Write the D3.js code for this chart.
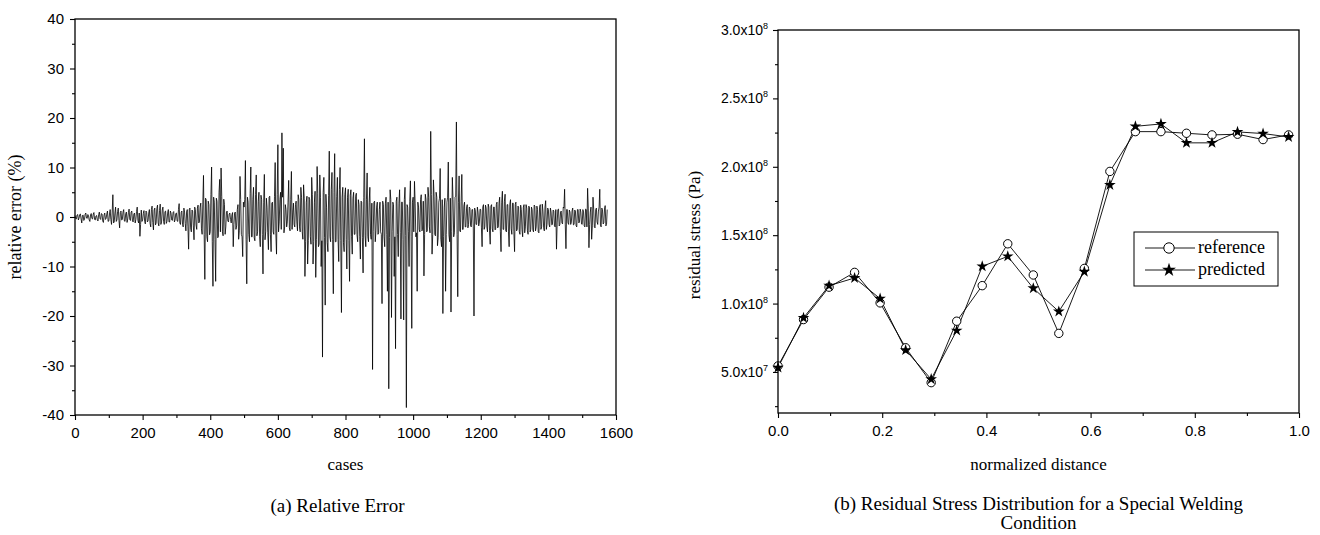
<!DOCTYPE html>
<html>
<head>
<meta charset="utf-8">
<script src="https://cdn.jsdelivr.net/npm/d3@7"></script>
<style>
  body { margin: 0; background: #fff; }
  svg { display: block; }
</style>
</head>
<body>
<div id="chart"></div>
<script>
// (a) relative error (%), readings at cases 0, 4, 8 ... 1572
const caseStep = 4;
const relErr = [
  0.3,-0.4,0.5,-0.2,0.6,-1.2,0.4,-0.5,0.8,-0.3,0.2,-0.9,0.7,-0.4,0.9,-0.6,0.3,-0.8,1.0,-0.5,0.6,-1.1,0.8,-0.3,1.2,
  -0.8,1.5,-1.5,4.5,-1.0,2.0,-0.6,1.8,-2.2,1.2,-0.5,1.5,-0.9,1.0,-0.4,1.6,-0.7,1.2,-1.0,0.8,-0.5,2.0,-1.2,-3.9,1.4,
  -0.6,1.3,-1.4,0.9,-0.8,1.5,-2.0,2.2,-2.6,1.8,-1.2,2.4,-1.8,2.6,-1.0,2.0,-1.5,1.2,-0.9,1.5,-1.0,0.8,-0.7,1.1,-0.6,
  0.8,-0.9,2.7,-1.5,1.2,-2.0,1.0,-2.8,1.5,-6.5,1.8,-3.0,1.2,-4.6,1.5,-2.5,2.4,-1.0,2.8,-3.5,8.4,-12.6,3.5,-5.0,2.5,
  -3.0,10.1,-14.0,3.0,-13.0,3.2,-4.0,7.6,9.9,-3.0,3.6,-3.5,1.0,-0.8,0.6,-0.5,0.4,-6.0,0.8,-2.5,1.5,-4.5,8.2,-3.5,-8.0,
  2.0,11.4,-13.5,3.0,-5.0,10.1,-4.0,6.0,-4.8,8.5,-3.0,5.0,-6.0,3.5,-11.5,8.6,-3.0,2.0,-6.6,4.2,-7.0,3.0,-3.5,11.0,-7.5,
  14.6,-1.0,5.0,17.0,13.9,-2.0,1.5,-1.0,7.4,-2.8,9.2,1.0,-1.5,2.5,-1.0,4.5,-2.0,6.0,-3.0,6.5,-12.0,3.0,-9.5,4.0,-4.0,
  8.0,-9.5,3.0,-12.2,10.2,-6.0,8.5,-10.0,-28.3,8.0,-17.8,2.0,-7.0,13.3,-5.0,9.0,-15.5,12.8,-5.0,8.0,-9.0,10.0,-19.3,6.0,-7.0,
  5.9,-10.5,5.6,-13.0,5.5,-7.5,5.0,-3.5,4.8,-5.0,2.5,-8.5,3.0,-11.3,15.8,-6.0,8.9,-5.0,6.0,-4.5,-30.8,3.0,-5.0,2.0,-3.5,
  1.5,-3.0,-17.5,2.5,-6.0,4.0,-15.0,-34.7,5.5,-20.3,3.0,-12.0,-26.6,4.0,-8.0,5.5,-20.6,3.0,-20.8,6.0,-38.5,2.0,-10.0,7.3,-22.5,
  4.0,7.2,-4.0,-15.0,2.0,-3.0,4.5,-2.5,-11.9,4.6,-3.0,6.0,-2.0,17.3,-7.5,7.5,-3.5,5.0,-5.8,3.0,9.8,-6.0,-19.5,2.0,-15.0,
  3.0,11.1,-5.0,-19.2,8.0,-4.0,4.0,19.2,-16.1,8.3,-3.0,8.6,-2.5,3.0,-2.0,2.5,-1.5,1.8,-2.0,1.5,-20.0,1.2,-1.5,1.0,-1.0,
  1.5,-6.0,2.5,-2.0,1.8,-3.0,2.0,-5.5,2.5,-3.0,2.0,-2.5,3.0,-2.0,4.0,-7.0,5.2,-2.5,4.6,-3.0,2.5,-6.0,3.5,-3.5,2.8,
  -7.0,3.0,-2.5,2.0,-3.5,1.5,-4.0,2.5,-2.0,1.8,-3.5,2.0,-2.5,1.5,-3.0,2.2,-2.0,1.5,-3.2,2.5,-2.0,1.2,-2.8,3.3,-1.5,
  1.5,-2.0,1.0,-1.5,1.2,-2.0,-6.5,1.5,-1.8,1.0,-1.2,2.0,5.6,-6.4,1.5,-1.5,1.0,-1.0,1.8,-1.5,1.2,-2.0,1.5,-1.0,1.0,
  -1.5,1.0,-2.0,1.5,5.8,-6.2,1.0,-4.5,4.0,-2.0,1.5,-1.0,1.2,5.6,-2.0,1.5,-1.2,2.3,-1.5
];
// in-between readings at cases 2, 6, 10 ... 1574 (the dense band)
const relErrMid = [
  -0.3,0.4,-0.6,0.5,-0.4,0.3,-0.7,0.6,-0.2,0.5,-0.6,0.4,-0.3,0.6,-0.5,0.2,-0.6,0.5,-0.3,0.7,-0.8,0.4,-0.5,0.6,-0.9,
  0.6,-0.5,1.0,-1.2,0.8,-0.9,1.1,-0.7,0.9,-0.6,1.0,-0.8,0.7,-1.1,0.9,-0.5,1.0,-0.8,0.6,-1.2,1.1,-0.7,0.8,-1.5,-0.9,
  0.7,-0.9,1.2,-1.0,0.8,-1.3,1.5,-1.1,1.4,-1.6,1.7,-1.2,1.3,-1.5,1.4,-0.9,1.1,-1.3,0.8,-1.0,1.2,-0.6,0.9,-1.0,0.7,
  -0.8,1.5,-1.2,0.9,-1.5,1.8,-1.3,1.0,-2.0,1.6,-2.2,1.4,-1.8,2.0,-1.6,1.8,-1.2,2.0,-2.4,2.6,-3.5,3.8,-4.0,3.2,-3.6,
  4.5,-5.0,4.0,-4.5,3.8,-4.2,5.0,-3.0,4.2,-3.8,2.5,-2.0,1.2,-1.0,0.8,-1.2,0.9,-1.5,1.0,-1.8,2.5,-2.8,3.5,-4.0,3.0,
  3.5,-4.5,4.0,-3.5,4.8,-4.0,3.6,-4.2,4.5,-3.8,3.2,-4.0,4.4,-3.5,3.0,-4.6,3.8,-3.2,4.0,-3.6,2.8,-3.0,4.2,-3.4,4.5,
  -3.0,3.5,-2.5,4.0,-3.2,2.5,-2.0,3.0,-2.2,3.6,-2.5,2.8,-2.0,3.2,-2.8,3.5,-3.0,4.0,-4.5,3.8,-5.0,4.2,-4.8,3.5,-5.5,
  4.5,-5.0,5.2,-4.6,4.8,-5.5,4.0,-4.8,5.0,-4.2,4.6,-5.2,4.4,-4.0,5.5,-4.6,5.0,-5.0,4.2,-4.5,5.6,-4.8,4.0,-5.2,4.5,
  -4.5,4.0,-4.8,4.4,-4.0,3.8,-3.5,4.2,-3.6,3.5,-4.0,3.2,-4.2,4.0,-3.8,3.6,-4.0,3.0,-3.5,2.8,-3.0,3.2,-2.8,3.0,-3.2,
  3.0,-3.5,3.2,-4.0,2.8,-3.6,3.0,-4.2,3.5,-3.0,2.5,-4.0,3.2,-3.5,2.8,-3.2,3.0,-4.5,3.5,-3.8,2.5,-3.0,3.2,-4.0,3.0,
  -3.0,2.8,-3.2,3.0,-2.5,3.5,-2.8,3.2,-3.5,3.6,-2.8,4.0,-3.2,4.5,-3.5,4.2,-3.8,4.0,-4.2,3.8,-4.5,3.5,-4.0,3.8,-3.5,
  4.0,-3.6,3.8,-3.0,3.5,-3.2,4.2,-3.5,3.0,-2.8,3.2,-2.5,2.2,-2.0,1.8,-2.2,2.0,-1.8,1.5,-2.0,1.8,-1.5,2.0,-1.8,1.6,
  -2.2,2.0,-2.5,2.4,-2.0,2.6,-2.8,2.2,-2.4,2.0,-2.6,2.5,-2.2,2.8,-3.0,3.0,-2.5,3.2,-2.8,2.5,-3.0,2.6,-2.4,2.8,-3.0,
  2.5,-2.8,2.2,-3.0,2.4,-2.6,2.0,-3.2,2.5,-2.8,2.2,-3.0,2.0,-2.6,2.4,-2.8,2.2,-3.0,2.0,-2.5,2.6,-2.2,2.0,-2.5,1.8,
  -1.5,1.8,-1.6,1.4,-1.8,1.5,-1.2,1.6,-1.5,1.2,-1.4,1.8,-1.6,1.5,-1.2,1.4,-1.5,1.2,-1.6,1.4,-1.8,1.5,-1.2,1.6,-1.4,
  1.5,-1.8,1.6,-2.0,1.8,-1.5,2.0,-1.8,1.6,-2.2,1.8,-1.5,2.0,-1.6,1.8,-1.4,1.6,-1.8,1.5
];
const caseTicks = [0, 200, 400, 600, 800, 1000, 1200, 1400, 1600];
const caseMinor = [100, 300, 500, 700, 900, 1100, 1300, 1500];
const errTicks = [-40, -30, -20, -10, 0, 10, 20, 30, 40];
const errMinor = [-35, -25, -15, -5, 5, 15, 25, 35];

// (b) residual stress (Pa) along the normalized distance
const distance = [0, 0.049, 0.098, 0.147, 0.196, 0.245, 0.294, 0.343, 0.392, 0.441, 0.49,
                  0.539, 0.588, 0.637, 0.686, 0.735, 0.784, 0.833, 0.882, 0.931, 0.98];
const stressRef = [5.44e7, 8.83e7, 1.12e8, 1.228e8, 1.005e8, 6.77e7, 4.22e7, 8.71e7, 1.131e8, 1.437e8, 1.209e8,
                   7.82e7, 1.257e8, 1.966e8, 2.257e8, 2.257e8, 2.245e8, 2.233e8, 2.238e8, 2.199e8, 2.233e8];
const stressPred = [5.32e7, 8.96e7, 1.131e8, 1.187e8, 1.036e8, 6.6e7, 4.47e7, 8.03e7, 1.272e8, 1.345e8, 1.112e8,
                    9.42e7, 1.233e8, 1.867e8, 2.296e8, 2.313e8, 2.175e8, 2.175e8, 2.255e8, 2.243e8, 2.218e8];
const distTicks = [0, 0.2, 0.4, 0.6, 0.8, 1.0];
const distMinor = [0.1, 0.3, 0.5, 0.7, 0.9];
const stressTicks = [5e7, 1e8, 1.5e8, 2e8, 2.5e8, 3e8];
const stressMinor = [2.5e7, 7.5e7, 1.25e8, 1.75e8, 2.25e8, 2.75e8];

const W = 1320, H = 535;
const sans = "'Liberation Sans', Arial, sans-serif";
const serif = "'Liberation Serif', 'Times New Roman', serif";

const svg = d3.select("#chart").append("svg")
  .attr("width", W).attr("height", H);

function styleAxis(g, size) {
  g.select(".domain").remove();
  g.selectAll(".tick line").attr("stroke", "#000").attr("stroke-width", 1.1);
  g.selectAll(".tick text").attr("fill", "#000")
    .style("font-family", sans).style("font-size", size + "px");
}

// ---------- panel (a) ----------
const A = { left: 75, top: 19, width: 541, height: 396 };
const gA = svg.append("g").attr("transform", `translate(${A.left},${A.top})`);

const xA = d3.scaleLinear().domain([0, 1600]).range([0, A.width]);
const yA = d3.scaleLinear().domain([-40, 40]).range([A.height, 0]);

gA.append("g").attr("transform", `translate(0,${A.height})`)
  .call(d3.axisBottom(xA).tickValues(caseTicks).tickFormat(d => String(d)).tickSize(5).tickPadding(7).tickSizeOuter(0))
  .call(g => styleAxis(g, 15));
gA.append("g").attr("transform", `translate(0,${A.height})`)
  .call(d3.axisBottom(xA).tickValues(caseMinor).tickFormat("").tickSize(3).tickSizeOuter(0))
  .call(g => styleAxis(g, 15));
gA.append("g")
  .call(d3.axisLeft(yA).tickValues(errTicks).tickFormat(d => String(d)).tickSize(5).tickPadding(6).tickSizeOuter(0))
  .call(g => styleAxis(g, 15));
gA.append("g")
  .call(d3.axisLeft(yA).tickValues(errMinor).tickFormat("").tickSize(3).tickSizeOuter(0))
  .call(g => styleAxis(g, 15));

// merge the two reading sets in case order
const errSeries = [];
relErr.forEach((v, k) => {
  errSeries.push({ c: k * caseStep, v: v });
  if (k < relErrMid.length) errSeries.push({ c: k * caseStep + caseStep / 2, v: relErrMid[k] });
});

gA.append("path")
  .datum(errSeries)
  .attr("fill", "none")
  .attr("stroke", "#000")
  .attr("stroke-width", 0.8)
  .attr("d", d3.line().x(d => xA(d.c)).y(d => yA(d.v)));

gA.append("rect").attr("width", A.width).attr("height", A.height)
  .attr("fill", "none").attr("stroke", "#000").attr("stroke-width", 1.3);

svg.append("text").attr("x", A.left + A.width / 2).attr("y", 470)
  .attr("text-anchor", "middle").style("font-family", serif).style("font-size", "17px")
  .text("cases");
svg.append("text").attr("transform", `translate(21,${A.top + A.height / 2}) rotate(-90)`)
  .attr("text-anchor", "middle").style("font-family", serif).style("font-size", "18px")
  .text("relative error (%)");
svg.append("text").attr("x", A.left + A.width / 2 - 8).attr("y", 512)
  .attr("text-anchor", "middle").style("font-family", serif).style("font-size", "19px")
  .text("(a) Relative Error");

// ---------- panel (b) ----------
const B = { left: 778, top: 30, width: 521, height: 383 };
const gB = svg.append("g").attr("transform", `translate(${B.left},${B.top})`);

const xB = d3.scaleLinear().domain([0, 1]).range([0, B.width]);
const yB = d3.scaleLinear().domain([2e7, 3e8]).range([B.height, 0]);

gB.append("g").attr("transform", `translate(0,${B.height})`)
  .call(d3.axisBottom(xB).tickValues(distTicks).tickFormat(d3.format(".1f")).tickSize(5).tickPadding(7).tickSizeOuter(0))
  .call(g => styleAxis(g, 15));
gB.append("g").attr("transform", `translate(0,${B.height})`)
  .call(d3.axisBottom(xB).tickValues(distMinor).tickFormat("").tickSize(3).tickSizeOuter(0))
  .call(g => styleAxis(g, 15));
gB.append("g")
  .call(d3.axisLeft(yB).tickValues(stressTicks).tickSize(5).tickPadding(5).tickSizeOuter(0))
  .call(g => styleAxis(g, 14))
  .call(g => g.selectAll(".tick text").each(function (d) {
    const t = d3.select(this).text(null);
    const e = Math.floor(Math.log10(d) + 1e-9);
    t.append("tspan").text((d / Math.pow(10, e)).toFixed(1) + "x10");
    t.append("tspan").attr("dy", -6).style("font-size", "9px").text(e);
  }));
gB.append("g")
  .call(d3.axisLeft(yB).tickValues(stressMinor).tickFormat("").tickSize(3).tickSizeOuter(0))
  .call(g => styleAxis(g, 14));

const lineB = d3.line().x((d, i) => xB(distance[i])).y(d => yB(d));
gB.append("path").datum(stressRef).attr("fill", "none").attr("stroke", "#000")
  .attr("stroke-width", 0.9).attr("d", lineB);
gB.append("path").datum(stressPred).attr("fill", "none").attr("stroke", "#000")
  .attr("stroke-width", 0.9).attr("d", lineB);

gB.selectAll("circle.ref").data(stressRef).join("circle")
  .attr("class", "ref")
  .attr("cx", (d, i) => xB(distance[i])).attr("cy", d => yB(d)).attr("r", 4.2)
  .attr("fill", "#fff").attr("stroke", "#000").attr("stroke-width", 1);

const star = d3.symbol().type(d3.symbolStar).size(42);
gB.selectAll("path.pred").data(stressPred).join("path")
  .attr("class", "pred")
  .attr("transform", (d, i) => `translate(${xB(distance[i])},${yB(d)})`)
  .attr("d", star).attr("fill", "#000");

gB.append("rect").attr("width", B.width).attr("height", B.height)
  .attr("fill", "none").attr("stroke", "#000").attr("stroke-width", 1.3);

// legend
const leg = svg.append("g").attr("transform", "translate(1134,232)");
leg.append("rect").attr("width", 144).attr("height", 54)
  .attr("fill", "#fff").attr("stroke", "#000").attr("stroke-width", 1);
const legItems = [
  { label: "reference", y: 16, mark: "circle" },
  { label: "predicted", y: 38, mark: "star" }
];
legItems.forEach(it => {
  leg.append("line").attr("x1", 11).attr("x2", 61).attr("y1", it.y).attr("y2", it.y)
    .attr("stroke", "#000").attr("stroke-width", 0.9);
  if (it.mark === "circle") {
    leg.append("circle").attr("cx", 35).attr("cy", it.y).attr("r", 5.2)
      .attr("fill", "#fff").attr("stroke", "#000");
  } else {
    leg.append("path").attr("transform", `translate(35,${it.y})`)
      .attr("d", d3.symbol().type(d3.symbolStar).size(60)).attr("fill", "#000");
  }
  leg.append("text").attr("x", 64).attr("y", it.y + 5)
    .style("font-family", serif).style("font-size", "18px").text(it.label);
});

svg.append("text").attr("x", B.left + B.width / 2).attr("y", 470)
  .attr("text-anchor", "middle").style("font-family", serif).style("font-size", "17px")
  .text("normalized distance");
svg.append("text").attr("transform", `translate(700,${B.top + 205}) rotate(-90)`)
  .attr("text-anchor", "middle").style("font-family", serif).style("font-size", "17px")
  .text("residual stress (Pa)");
svg.append("text").attr("x", B.left + B.width / 2).attr("y", 510)
  .attr("text-anchor", "middle").style("font-family", serif).style("font-size", "19px")
  .text("(b) Residual Stress Distribution for a Special Welding");
svg.append("text").attr("x", B.left + B.width / 2).attr("y", 529)
  .attr("text-anchor", "middle").style("font-family", serif).style("font-size", "19px")
  .text("Condition");
</script>
</body>
</html>
